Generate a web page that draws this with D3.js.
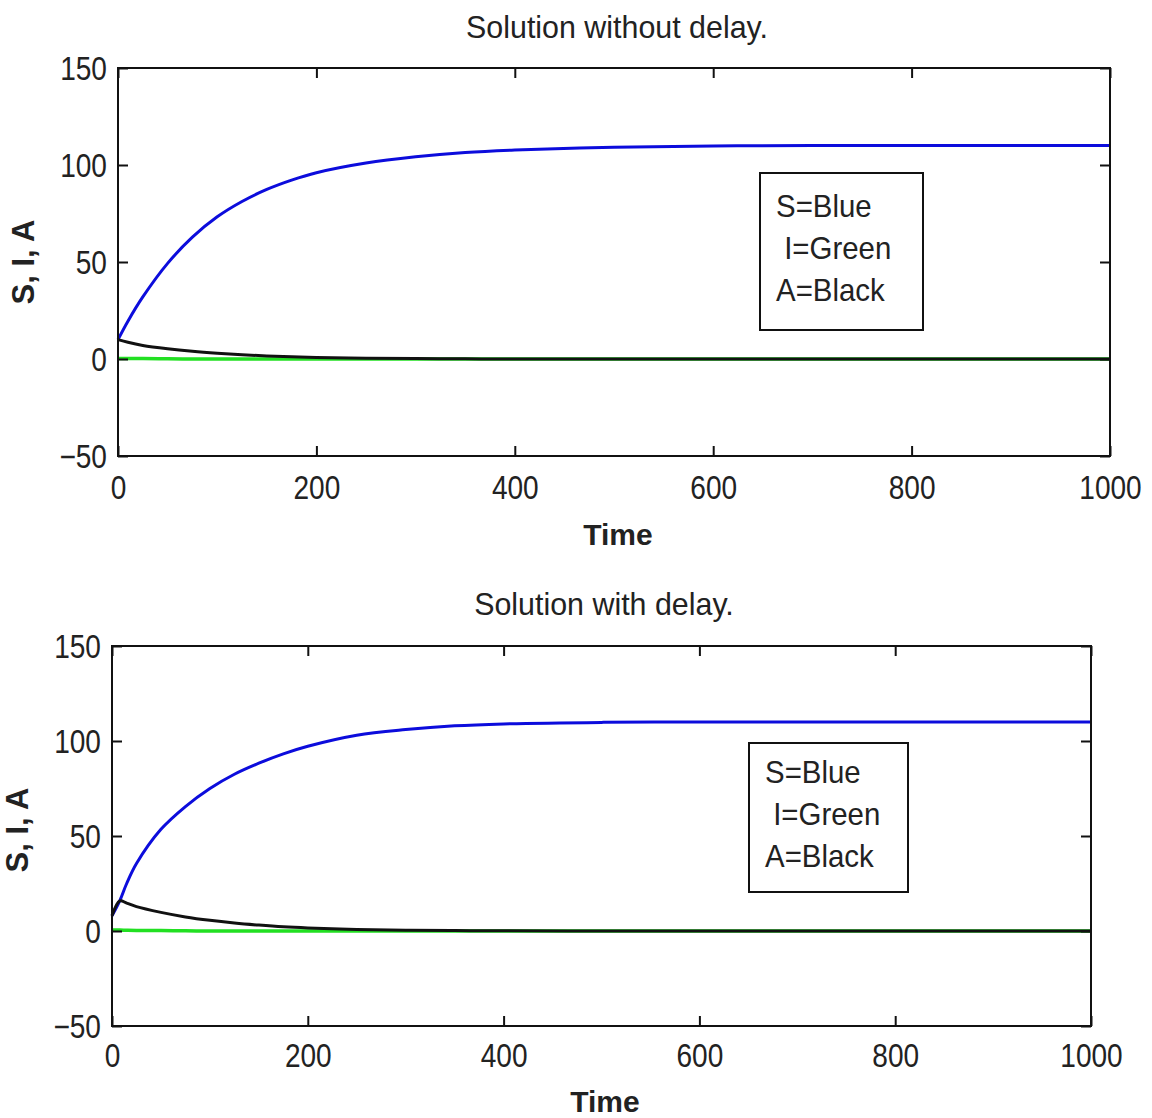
<!DOCTYPE html>
<html>
<head>
<meta charset="utf-8">
<script src="https://cdn.jsdelivr.net/npm/d3@7"></script>
<style>
  body { margin: 0; background: #fff; }
  svg text { font-family: "Liberation Sans", Arial, sans-serif; fill: #222; }
</style>
</head>
<body>
<svg id="chart" width="1152" height="1118"></svg>
<script>
// Ticks shared by both panels
const xTicks = [0, 200, 400, 600, 800, 1000];
const yTicks = [-50, 0, 50, 100, 150];

// Panel 1: solution without delay
const timeTop = [0, 10, 25, 50, 75, 100, 125, 150, 175, 200, 250, 300, 350, 400, 500, 600, 700, 800, 900, 1000];
const sTop = [10, 19.5, 32, 49.3, 62.8, 73.3, 81.2, 87.4, 92.2, 96, 101, 104.2, 106.4, 107.7, 109.2, 109.8, 110, 110, 110, 110];
const iTop = [0.3, 0.3, 0.2, 0.1, 0, 0, 0, 0, 0, 0, 0, 0, 0, 0, 0, 0, 0, 0, 0, 0];
const aTop = [10, 8.6, 7, 5.3, 4, 3, 2.2, 1.6, 1.1, 0.8, 0.4, 0.2, 0.1, 0, 0, 0, 0, 0, 0, 0];

// Panel 2: solution with delay
const timeBottom = [0, 8, 15, 25, 50, 75, 100, 125, 150, 175, 200, 250, 300, 350, 400, 500, 600, 700, 800, 900, 1000];
const sBottom = [8, 16, 25, 35.5, 53.5, 65.5, 75, 82.5, 88.3, 93.2, 97.2, 103, 106, 108, 109, 109.8, 110, 110, 110, 110, 110];
const iBottom = [0.5, 0.5, 0.4, 0.3, 0.2, 0.1, 0, 0, 0, 0, 0, 0, 0, 0, 0, 0, 0, 0, 0, 0, 0];
const aBottom = [8, 15.8, 14.7, 12.8, 9.8, 7.4, 5.6, 4.2, 3.1, 2.2, 1.6, 0.8, 0.4, 0.2, 0.1, 0, 0, 0, 0, 0, 0];

const legendLines = ["S=Blue", " I=Green", "A=Black"];

const svg = d3.select("#chart");

// Draw one MATLAB-style panel
function drawPanel(cfg) {
    const g = svg.append("g")
        .attr("transform", "translate(" + cfg.left + "," + cfg.top + ")");

    const x = d3.scaleLinear().domain([0, 1000]).range([0, cfg.width]);
    const y = d3.scaleLinear().domain([-50, 150]).range([cfg.height, 0]);

    // Series lines (I drawn before A so black sits on top of green)
    const series = [
        { values: cfg.s, color: "#0c0cdc", w: 3 },
        { values: cfg.i, color: "#22e022", w: 3.5 },
        { values: cfg.a, color: "#111", w: 3 }
    ];
    series.forEach(function(ser) {
        const line = d3.line()
            .x((d, k) => x(cfg.time[k]))
            .y(d => y(d))
            .curve(d3.curveCatmullRom.alpha(0.5));
        g.append("path")
            .datum(ser.values)
            .attr("fill", "none")
            .attr("stroke", ser.color)
            .attr("stroke-width", ser.w)
            .attr("d", line);
    });

    // Axes with inward ticks on all four sides
    const left = g.append("g")
        .call(d3.axisLeft(y).tickValues(yTicks).tickSize(-10).tickSizeOuter(0).tickPadding(13));
    const bottom = g.append("g")
        .attr("transform", "translate(0," + cfg.height + ")")
        .call(d3.axisBottom(x).tickValues(xTicks).tickSize(-10).tickSizeOuter(0).tickPadding(cfg.xPad));
    g.append("g")
        .call(d3.axisTop(x).tickValues(xTicks).tickSize(-10).tickSizeOuter(0).tickFormat(""));
    g.append("g")
        .attr("transform", "translate(" + cfg.width + ",0)")
        .call(d3.axisRight(y).tickValues(yTicks).tickSize(-10).tickSizeOuter(0).tickFormat(""));

    g.selectAll(".tick line").attr("stroke", "#111").attr("stroke-width", 2);
    g.selectAll(".domain").remove();
    [left, bottom].forEach(function(ax) {
        ax.selectAll("text")
            .attr("fill", "#222")
            .attr("transform", "scale(0.85,1)")
            .style("font-size", "33px")
            .text(d => d < 0 ? "\u2212" + Math.abs(d) : d);
    });
    left.selectAll("text").attr("dy", "0.36em");

    // Box
    g.append("rect")
        .attr("width", cfg.width)
        .attr("height", cfg.height)
        .attr("fill", "none")
        .attr("stroke", "#111")
        .attr("stroke-width", 2);

    // Title
    g.append("text")
        .attr("transform", "translate(" + cfg.titleX + "," + cfg.titleY + ") scale(0.95,1)")
        .attr("text-anchor", "middle")
        .style("font-size", "32px")
        .text(cfg.title);

    // Axis labels
    g.append("text")
        .attr("x", cfg.timeX)
        .attr("y", cfg.timeY)
        .attr("text-anchor", "middle")
        .style("font-size", "30px")
        .style("font-weight", "bold")
        .text("Time");

    g.append("text")
        .attr("transform", "translate(" + cfg.ylabX + "," + cfg.ylabY + ") rotate(-90)")
        .attr("text-anchor", "middle")
        .style("font-size", "31px")
        .style("font-weight", "bold")
        .text("S, I, A");

    // Legend box
    const lg = g.append("g")
        .attr("transform", "translate(" + cfg.legend.x + "," + cfg.legend.y + ")");
    lg.append("rect")
        .attr("width", cfg.legend.w)
        .attr("height", cfg.legend.h)
        .attr("fill", "#fff")
        .attr("stroke", "#111")
        .attr("stroke-width", 2);
    lg.selectAll("text.leg")
        .data(legendLines)
        .enter().append("text")
        .attr("class", "leg")
        .attr("transform", (d, k) => "translate(16," + (cfg.legend.base + k * 42) + ") scale(0.92,1)")
        .attr("xml:space", "preserve")
        .style("white-space", "pre")
        .style("font-size", "32px")
        .text(d => d);
}

drawPanel({
    left: 118, top: 68, width: 992, height: 388,
    time: timeTop, s: sTop, i: iTop, a: aTop,
    xPad: 20,
    title: "Solution without delay.", titleX: 499, titleY: -30,
    timeX: 500, timeY: 477,
    ylabX: -84, ylabY: 194,
    legend: { x: 642, y: 105, w: 163, h: 157, base: 44 }
});

drawPanel({
    left: 112, top: 646, width: 979, height: 380,
    time: timeBottom, s: sBottom, i: iBottom, a: aBottom,
    xPad: 18,
    title: "Solution with delay.", titleX: 492, titleY: -31,
    timeX: 493, timeY: 466,
    ylabX: -84, ylabY: 184,
    legend: { x: 637, y: 97, w: 159, h: 149, base: 40 }
});
</script>
</body>
</html>
